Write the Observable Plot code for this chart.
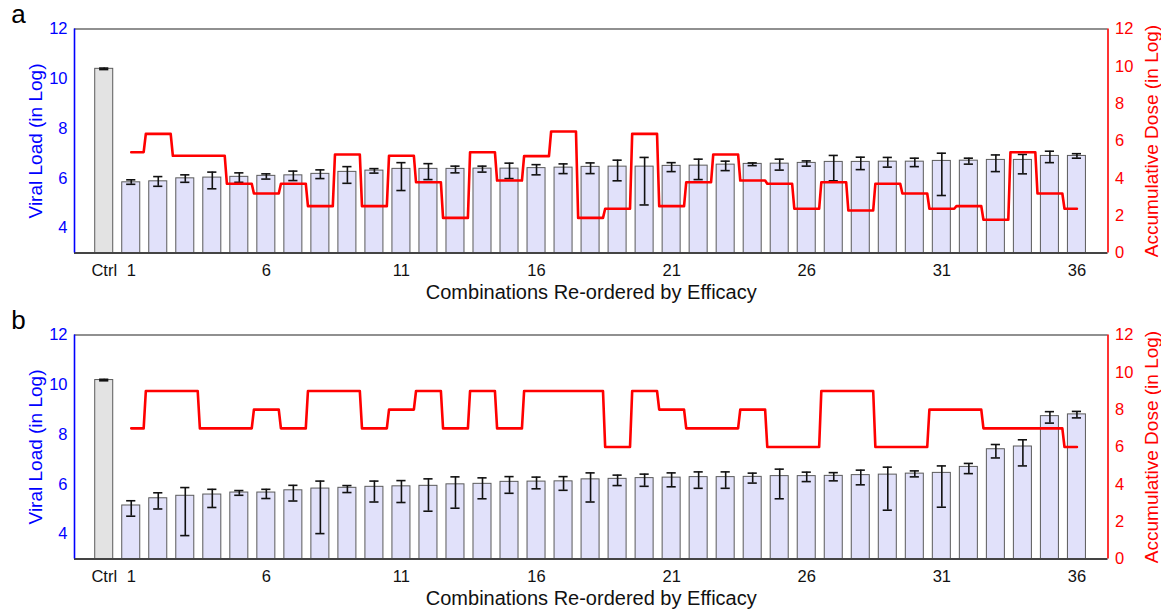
<!DOCTYPE html>
<html>
<head>
<meta charset="utf-8">
<script src="https://cdn.jsdelivr.net/npm/d3@7"></script>
<script src="https://cdn.jsdelivr.net/npm/@observablehq/plot@0.6"></script>
<style>
  html, body { margin: 0; padding: 0; background: #fff; }
  #chart svg { display: block; }
</style>
</head>
<body>
<div id="chart"></div>
<script>
// ---- data ----
const categories = ["Ctrl","1","2","3","4","5","6","7","8","9","10","11","12","13","14","15","16","17","18","19","20","21","22","23","24","25","26","27","28","29","30","31","32","33","34","35","36"];
const xTickLabels = ["Ctrl","1","6","11","16","21","26","31","36"];
const leftTicks = [4, 6, 8, 10, 12];
const rightTicks = [0, 2, 4, 6, 8, 10, 12];

// Panel a
const viralA = [10.40, 5.84, 5.88, 6.00, 6.03, 6.06, 6.10, 6.12, 6.18, 6.26, 6.31, 6.38, 6.38, 6.38, 6.39, 6.39, 6.41, 6.43, 6.46, 6.47, 6.47, 6.50, 6.51, 6.55, 6.58, 6.59, 6.62, 6.66, 6.66, 6.67, 6.67, 6.70, 6.71, 6.74, 6.74, 6.90, 6.90];
const hiA    = [10.43, 5.94, 6.07, 6.14, 6.25, 6.22, 6.18, 6.29, 6.34, 6.47, 6.39, 6.63, 6.59, 6.49, 6.49, 6.61, 6.55, 6.58, 6.62, 6.73, 6.84, 6.63, 6.77, 6.69, 6.62, 6.77, 6.70, 6.92, 6.85, 6.84, 6.81, 7.01, 6.81, 6.94, 6.96, 7.09, 6.99];
const loA    = [10.37, 5.76, 5.68, 5.84, 5.58, 5.84, 5.97, 5.91, 5.99, 5.80, 6.21, 5.51, 5.95, 6.22, 6.25, 5.99, 6.14, 6.19, 6.19, 5.90, 4.93, 6.27, 5.95, 6.31, 6.51, 6.33, 6.49, 5.90, 6.35, 6.45, 6.47, 5.31, 6.57, 6.27, 6.18, 6.63, 6.81];
const doseA  = [5.40, 6.38, 5.21, 5.21, 3.71, 3.19, 3.71, 2.51, 5.28, 2.51, 5.21, 3.79, 1.88, 5.40, 3.88, 5.19, 6.51, 1.88, 2.37, 6.38, 2.51, 3.79, 5.28, 3.88, 3.71, 2.37, 3.79, 2.28, 3.71, 3.19, 2.37, 2.51, 1.78, 5.40, 3.19, 2.37];

// Panel b
const viralB = [10.19, 5.15, 5.44, 5.54, 5.59, 5.67, 5.67, 5.76, 5.83, 5.86, 5.90, 5.92, 5.94, 6.00, 6.02, 6.10, 6.11, 6.12, 6.20, 6.22, 6.25, 6.27, 6.29, 6.29, 6.30, 6.33, 6.33, 6.34, 6.37, 6.39, 6.43, 6.46, 6.70, 7.41, 7.52, 8.74, 8.81];
const hiB    = [10.22, 5.34, 5.66, 5.87, 5.80, 5.75, 5.80, 5.96, 6.13, 5.95, 6.13, 6.15, 6.22, 6.30, 6.26, 6.31, 6.29, 6.31, 6.46, 6.37, 6.41, 6.46, 6.50, 6.50, 6.45, 6.61, 6.49, 6.47, 6.57, 6.69, 6.54, 6.74, 6.84, 7.60, 7.79, 8.92, 8.93];
const loB    = [10.16, 4.72, 5.01, 3.94, 5.07, 5.56, 5.43, 5.33, 4.02, 5.67, 5.29, 5.27, 4.92, 5.04, 5.42, 5.64, 5.82, 5.76, 5.29, 5.95, 5.92, 5.90, 5.84, 5.84, 6.05, 5.42, 6.11, 6.14, 5.98, 4.96, 6.30, 5.08, 6.43, 7.06, 6.74, 8.46, 8.67];
const doseB  = [7, 9, 9, 7, 7, 8, 7, 9, 9, 7, 8, 9, 7, 9, 7, 9, 9, 9, 6, 9, 8, 7, 7, 8, 6, 6, 9, 9, 6, 6, 8, 8, 7, 7, 7, 6];

// ---- drawing ----
const FONT = "'Liberation Sans', Arial, Helvetica, sans-serif";
const xDomain = [-1.1, 37.15];
const yDomain = [3, 12];
const doseMax = 12;
const toLeft = d => yDomain[0] + d * (yDomain[1] - yDomain[0]) / doseMax;
const toDose = v => (v - yDomain[0]) * doseMax / (yDomain[1] - yDomain[0]);

function panel(letter, viral, hi, lo, dose) {
  const bars = categories.map((c, i) => ({i, c, v: viral[i], hi: hi[i], lo: lo[i]}));
  const halfW = 1 / 3;
  const capW = 0.17;
  const stepHalf = 0.46;
  const pts = [];
  dose.forEach((d, k) => {
    const i = k + 1;
    pts.push({x: k === 0 ? i : i - stepHalf, y: toLeft(d)});
    pts.push({x: k === dose.length - 1 ? i : i + stepHalf, y: toLeft(d)});
  });
  const xTicks = xTickLabels.map(l => categories.indexOf(l));
  const centered = {textAnchor: "middle", lineAnchor: "middle"};
  return Plot.plot({
    width: 1161,
    height: 306,
    marginLeft: 74,
    marginRight: 53.5,
    marginTop: 28.5,
    marginBottom: 53.5,
    style: {fontFamily: FONT, background: "white", overflow: "visible"},
    x: {type: "linear", domain: xDomain},
    y: {domain: yDomain},
    marks: [
      Plot.rectY(bars, {
        x1: d => d.i - halfW, x2: d => d.i + halfW,
        y1: yDomain[0], y2: "v",
        fill: d => d.i === 0 ? "#e3e3e3" : "#e1e1fa",
        stroke: "#5a5a5a", strokeWidth: 1
      }),
      Plot.ruleX(bars, {x: "i", y1: "lo", y2: "hi", stroke: "#111", strokeWidth: 1.6}),
      Plot.ruleY(bars, {y: "hi", x1: d => d.i - capW, x2: d => d.i + capW, stroke: "#111", strokeWidth: 1.6}),
      Plot.ruleY(bars, {y: "lo", x1: d => d.i - capW, x2: d => d.i + capW, stroke: "#111", strokeWidth: 1.6}),
      Plot.line(pts, {x: "x", y: "y", stroke: "#ff0000", strokeWidth: 2.6}),
      Plot.ruleY([yDomain[1]], {stroke: "#222", strokeWidth: 1.2}),
      Plot.ruleY([yDomain[0]], {stroke: "#444", strokeWidth: 2}),
      Plot.ruleX([xDomain[0]], {stroke: "#0000ff", strokeWidth: 1.6}),
      Plot.ruleX([xDomain[1]], {stroke: "#ff0000", strokeWidth: 1.6}),
      Plot.axisY({anchor: "left", ticks: leftTicks, tickSize: 0, tickPadding: 7, color: "#0000ff", fontSize: 16.5, label: null}),
      Plot.axisY({anchor: "right", ticks: rightTicks.map(toLeft), tickFormat: t => String(Math.round(toDose(t))), tickSize: 0, tickPadding: 7, color: "#ff0000", fontSize: 16.5, label: null}),
      Plot.axisX({ticks: xTicks, tickFormat: t => categories[t], tickSize: 0, tickPadding: 11, color: "#111", fontSize: 16.5, label: null}),
      Plot.text(["Combinations Re-ordered by Efficacy"], {text: d => d, frameAnchor: "bottom", dy: 40, fontSize: 20, fill: "#111", ...centered}),
      Plot.text(["Viral Load (in Log)"], {text: d => d, frameAnchor: "left", dx: -39, rotate: -90, fontSize: 19, fill: "#0000ff", ...centered}),
      Plot.text(["Accumulative Dose (in Log)"], {text: d => d, frameAnchor: "right", dx: 44, rotate: -90, fontSize: 19, fill: "#ff0000", ...centered}),
      Plot.text([letter], {text: d => d, frameAnchor: "top-left", dx: -56, dy: -14, fontSize: 26, fill: "#000", ...centered})
    ]
  });
}

const root = document.getElementById("chart");
root.appendChild(panel("a", viralA, hiA, loA, doseA));
root.appendChild(panel("b", viralB, hiB, loB, doseB));
</script>
</body>
</html>
